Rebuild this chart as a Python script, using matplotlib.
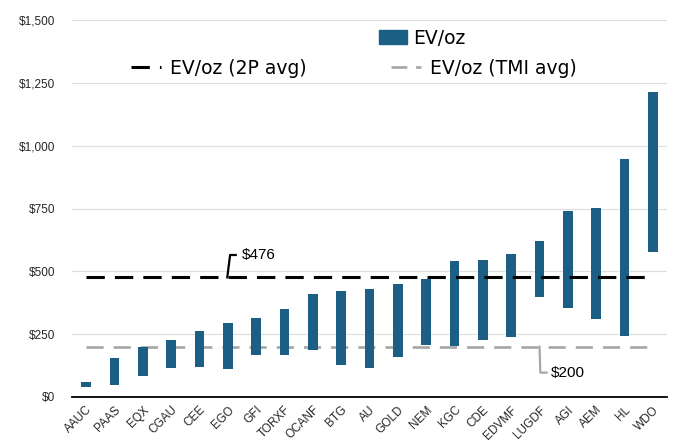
import matplotlib.pyplot as plt
from matplotlib.lines import Line2D
from matplotlib.patches import Patch
from matplotlib.ticker import FuncFormatter

# EV/oz range per company (low end, high end)
tickers = ["AAUC", "PAAS", "EQX", "CGAU", "CEE", "EGO", "GFI", "TORXF", "OCANF", "BTG", "AU",
           "GOLD", "NEM", "KGC", "CDE", "EDVMF", "LUGDF", "AGI", "AEM", "HL", "WDO"]
ev_low = [40, 49, 82, 117, 120, 112, 166, 166, 186, 126, 114,
          158, 206, 203, 227, 239, 396, 355, 310, 244, 576]
ev_high = [61, 155, 200, 227, 262, 294, 316, 349, 409, 420, 428,
           450, 470, 541, 547, 568, 621, 742, 752, 947, 1214]
avg_2p = 476
avg_tmi = 200

bar_color = "#1c5f84"
plt.rcParams['font.family'] = ['Liberation Sans', 'DejaVu Sans']

fig = plt.figure(figsize=(6.88, 4.47), dpi=100)
ax = fig.add_axes([72 / 688, 50 / 447, 595 / 688, 377 / 447])

x = list(range(len(tickers)))
heights = [h - l for l, h in zip(ev_low, ev_high)]
ax.bar(x, heights, bottom=ev_low, width=0.33, color=bar_color, zorder=3)

ax.plot([x[0], x[-1]], [avg_2p, avg_2p], color="black", lw=2.2, dashes=(6, 3.3), zorder=4)
ax.plot([x[0], x[-1]], [avg_tmi, avg_tmi], color="#a6a6a6", lw=1.9, dashes=(6.5, 3.8), zorder=2)

# callouts
ax.plot([4.98, 5.08, 5.28], [avg_2p, 565, 565], color="black", lw=1.6, zorder=5)
ax.text(5.5, 565, "$476", fontsize=11, va="center", ha="left")
ax.plot([16.0, 16.03, 16.25], [avg_tmi, 97, 97], color="#a6a6a6", lw=1.6, zorder=5)
ax.text(16.4, 97, "$200", fontsize=11, va="center", ha="left")

ax.set_xlim(-0.5, len(tickers) - 0.5)
ax.set_ylim(0, 1500)
ax.set_yticks(range(0, 1501, 250))
ax.yaxis.set_major_formatter(FuncFormatter(lambda v, p: f"${v:,.0f}"))
ax.set_xticks(x)
ax.set_xticklabels(tickers, rotation=45, ha="right", rotation_mode="anchor")
ax.tick_params(axis="both", length=0, labelsize=8.5, colors="#262626")
ax.tick_params(axis="y", pad=12)
ax.tick_params(axis="x", pad=5)

ax.grid(axis="y", color="#e0e0e0", lw=0.9, zorder=0)
for s in ["left", "right", "top"]:
    ax.spines[s].set_visible(False)
ax.spines["bottom"].set_color("black")
ax.spines["bottom"].set_linewidth(1.3)
ax.spines["bottom"].set_zorder(6)

leg_font = {"family": ["Liberation Sans Narrow", "DejaVu Sans"], "size": 13.5}
leg1 = fig.legend(handles=[Patch(color=bar_color)], labels=["EV/oz"], loc="center",
                  bbox_to_anchor=(422 / 688, 1 - 38 / 447), frameon=False, prop=leg_font,
                  handlelength=1.5, handleheight=0.8, handletextpad=0.3)
h2 = [Line2D([], [], color="black", lw=2.2, dashes=(6, 3.3)),
      Line2D([], [], color="#a6a6a6", lw=1.9, dashes=(6, 3.3))]
leg2 = fig.legend(handles=h2, labels=["EV/oz (2P avg)", "EV/oz (TMI avg)"], loc="center",
                  bbox_to_anchor=(354 / 688, 1 - 68 / 447), ncol=2, frameon=False,
                  prop=leg_font, handlelength=1.6, handletextpad=0.5, columnspacing=4.5)

fig.savefig("out.png", dpi=100)
